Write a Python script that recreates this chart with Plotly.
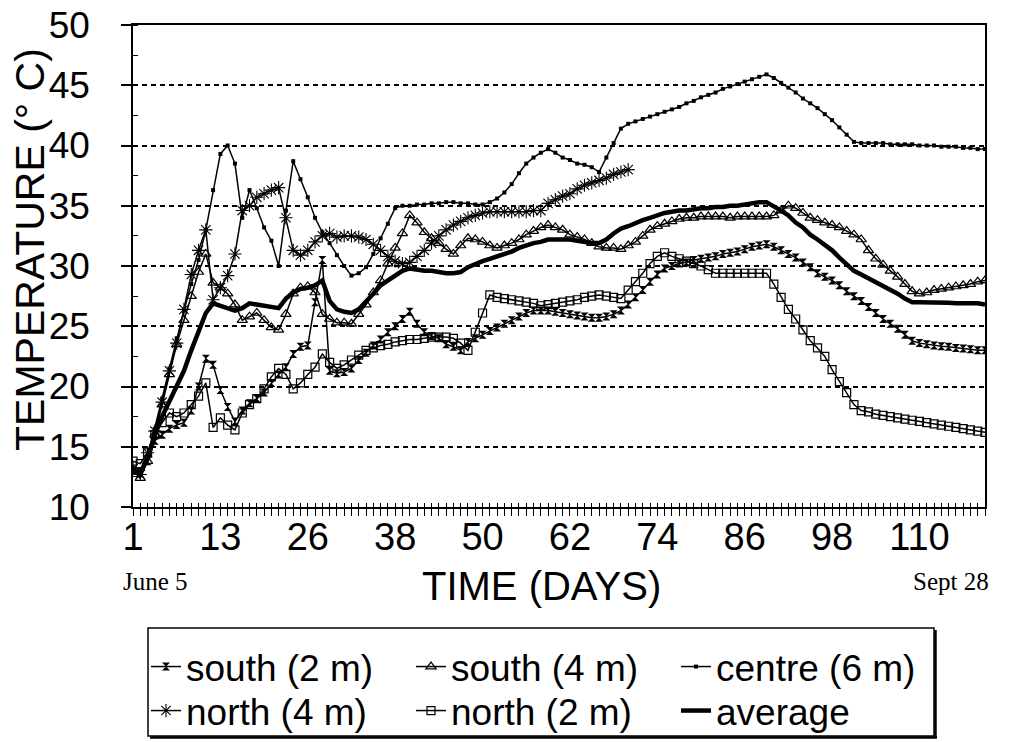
import plotly.graph_objects as go

# ---------------- data ----------------
day_index = list(range(1, 119))          # category positions (1 .. 118)
tick_positions = [1, 13, 25, 37, 49, 61, 73, 85, 97, 109]
tick_labels = ["1", "13", "26", "38", "50", "62", "74", "86", "98", "110"]

south_2m = [13.0, 12.8, 13.8, 15.5, 16.0, 16.5, 16.8, 17.0, 18.0, 20.0,
            22.3, 21.8, 19.7, 18.3, 17.1, 18.0, 18.6, 19.0, 19.5, 20.3,
            21.0, 21.6, 22.7, 23.3, 23.4, 27.0, 30.5, 21.3, 21.1, 21.2,
            21.5, 22.2, 22.8, 23.4, 23.9, 24.5, 25.0, 25.6, 26.2, 25.2,
            24.5, 24.2, 24.0, 23.5, 23.3, 23.0, 23.7, 24.0, 24.3, 24.6,
            24.9, 25.2, 25.5, 25.8, 26.1, 26.3, 26.3, 26.3, 26.2, 26.1,
            26.0, 25.9, 25.8, 25.7, 25.7, 25.8, 26.0, 26.3, 26.8, 27.4,
            28.0, 28.7, 29.3, 29.8, 30.0, 30.2, 30.3, 30.5, 30.6, 30.7,
            30.8, 31.0, 31.1, 31.2, 31.4, 31.6, 31.7, 31.8, 31.6, 31.3,
            31.0, 30.7, 30.3, 29.9, 29.4, 29.1, 28.8, 28.4, 27.9, 27.5,
            27.1, 26.6, 26.1, 25.6, 25.2, 24.8, 24.3, 23.8, 23.6, 23.5,
            23.4, 23.35, 23.3, 23.2, 23.15, 23.1, 23.0, 23.0]

south_4m = [13.0, 12.4, 13.8, 16.0, 18.5, 21.0, 23.5, 25.5, 27.5, 29.5,
            31.0, 28.6, 28.2, 27.7, 26.8, 25.5, 25.8, 26.1, 25.5, 24.9,
            24.7, 26.0, 27.7, 28.2, 28.3, 27.8, 26.0, 25.6, 25.3, 25.3,
            25.2, 26.0, 26.8, 27.8, 28.8, 30.2, 31.5, 32.7, 34.2, 33.6,
            32.8, 32.3, 31.9, 31.4, 31.0, 31.7, 32.3, 32.2, 32.0, 31.7,
            31.5, 31.7, 31.9, 32.2, 32.6, 32.9, 33.2, 33.4, 33.2, 33.0,
            32.6, 32.4, 32.2, 31.9, 31.6, 31.5, 31.5, 31.4, 31.7, 32.0,
            32.5, 33.0, 33.3, 33.5, 33.7, 33.9, 34.0, 34.0, 34.1, 34.1,
            34.1, 34.1, 34.0, 34.1, 34.1, 34.1, 34.1, 34.1, 34.2, 34.6,
            35.0, 34.8, 34.4, 34.0, 33.8, 33.6, 33.4, 33.2, 32.9, 32.6,
            32.2, 31.3, 30.6, 30.1, 29.6, 29.1, 28.5, 27.9, 27.7, 27.8,
            28.0, 28.1, 28.2, 28.3, 28.4, 28.5, 28.7, 28.8]

centre_6m = [13.0, 12.8, 14.2, 16.5, 19.0, 21.5, 24.0, 26.3, 28.5, 30.5,
             33.0, 36.3, 39.3, 40.0, 38.5, 34.0, 36.3, 34.8, 33.2, 32.1,
             30.0, 34.6, 38.7, 37.2, 35.7, 34.0, 32.8, 31.9, 30.9, 30.0,
             29.2, 29.4, 29.9, 31.0, 32.3, 33.5, 34.8, 35.0, 35.0, 35.1,
             35.1, 35.2, 35.2, 35.3, 35.3, 35.2, 35.2, 35.1, 35.1, 35.3,
             35.6, 36.1, 36.8, 37.7, 38.5, 39.0, 39.4, 39.7, 39.4, 39.0,
             38.8, 38.5, 38.4, 38.2, 37.8, 39.0, 40.2, 41.4, 41.8, 42.0,
             42.2, 42.4, 42.6, 42.8, 43.0, 43.2, 43.5, 43.7, 44.0, 44.2,
             44.4, 44.7, 44.9, 45.1, 45.3, 45.5, 45.7, 45.9, 45.6, 45.2,
             44.8, 44.4, 43.9, 43.5, 43.1, 42.6, 42.1, 41.5, 40.9, 40.3,
             40.2, 40.2, 40.2, 40.2, 40.1, 40.1, 40.1, 40.1, 40.0, 40.0,
             40.0, 39.9, 39.9, 39.9, 39.8, 39.8, 39.7, 39.7]

north_4m = [13.2, 12.7, 14.5, 16.3, 18.7, 21.3, 23.6, 26.4, 29.3, 31.3,
            33.0, 27.2, 28.2, 29.2, 31.0, 34.6, 35.0, 35.7, 36.0, 36.3,
            36.5, 34.0, 31.3, 30.9, 31.3, 32.0, 32.5, 32.7, 32.4, 32.5,
            32.5, 32.4, 32.2, 31.8, 31.3, 30.8, 30.4, 30.2, 30.3, 30.8,
            31.3, 31.9, 32.5, 33.0, 33.4, 33.7, 34.0, 34.2, 34.4, 34.5,
            34.5, 34.5, 34.5, 34.5, 34.5, 34.6, 34.6, 35.2, 35.5, 35.8,
            36.0, 36.4, 36.7, 36.9, 37.1, 37.3, 37.6, 37.8, 38.0] + [None] * 49

north_2m = [13.8, 13.6, 14.5, 16.0, 17.0, 17.8, 17.5, 17.8, 18.5, 19.2,
            20.3, 16.6, 17.4, 16.8, 16.4, 17.8, 18.5, 19.0, 19.8, 20.8,
            21.5, 21.0, 19.8, 20.3, 21.0, 21.6, 22.7, 22.0, 21.5, 21.8,
            22.2, 22.6, 23.0, 23.2, 23.4, 23.5, 23.7, 23.8, 23.9, 23.9,
            24.0, 24.1, 24.1, 24.1, 24.0, 23.6, 23.0, 24.5, 26.1, 27.6,
            27.4, 27.3, 27.2, 27.1, 27.0, 26.9, 26.7, 26.8, 26.9, 27.0,
            27.1, 27.2, 27.4, 27.5, 27.6, 27.5, 27.4, 27.3, 28.0, 28.7,
            29.4, 30.2, 30.8, 31.1, 30.8, 30.6, 30.4, 30.2, 30.0, 29.7,
            29.4, 29.4, 29.4, 29.4, 29.4, 29.4, 29.4, 29.4, 28.5, 27.4,
            26.4, 25.6, 24.7, 23.8, 23.2, 22.5, 21.4, 20.4, 19.5, 18.5,
            18.0, 17.9, 17.7, 17.6, 17.5, 17.4, 17.3, 17.2, 17.1, 17.0,
            16.9, 16.8, 16.7, 16.6, 16.5, 16.4, 16.3, 16.2]

average = [13.0, 12.9, 14.0, 16.0, 17.5, 18.8, 20.0, 21.3, 23.0, 24.6,
           26.1, 26.9, 26.7, 26.5, 26.3, 26.5, 26.9, 26.8, 26.7, 26.6,
           26.5, 27.3, 27.8, 28.1, 28.2, 28.4, 28.8, 27.1, 26.4, 26.2,
           26.1, 26.4, 27.0, 27.7, 28.4, 28.8, 29.3, 29.6, 29.8, 29.7,
           29.6, 29.6, 29.5, 29.4, 29.4, 29.5, 29.9, 30.2, 30.4, 30.6,
           30.8, 31.0, 31.2, 31.5, 31.7, 31.9, 32.0, 32.2, 32.2, 32.2,
           32.2, 32.1, 32.0, 31.9, 31.9, 32.2, 32.7, 33.1, 33.3, 33.6,
           33.8, 34.0, 34.2, 34.4, 34.5, 34.6, 34.6, 34.7, 34.8, 34.8,
           34.9, 34.9, 35.0, 35.0, 35.1, 35.2, 35.3, 35.3, 35.0, 34.6,
           34.2, 33.6, 33.2, 32.6, 32.2, 31.8, 31.3, 30.7, 30.1, 29.6,
           29.3, 29.0, 28.7, 28.4, 28.0, 27.7, 27.3, 27.0, 27.0, 27.0,
           27.0, 26.95, 26.95, 26.9, 26.9, 26.9, 26.9, 26.8]

# ---------------- layout helpers ----------------
W, H = 1014, 742
L, R, T, B = 133, 985, 25, 507           # plot-area box in pixels


def px_x(p):
    return (p - L) / (R - L)


def px_y(p):
    return (B - p) / (B - T)


FONT = "Liberation Sans, Arial, sans-serif"
SERIF = "Liberation Serif, Times New Roman, serif"

fig = go.Figure()

series = [
    ("south (2 m)", south_2m, dict(symbol="hourglass", size=8, color="black"), "legend"),
    ("south (4 m)", south_4m, dict(symbol="triangle-up-open", size=9, color="black",
                                   line=dict(width=1.2, color="black")), "legend"),
    ("centre (6 m)", centre_6m, dict(symbol="square", size=4, color="black"), "legend"),
    ("north (4 m)", north_4m, dict(symbol="asterisk-open", size=11, color="black",
                                   line=dict(width=1.1, color="black")), "legend2"),
    ("north (2 m)", north_2m, dict(symbol="square-open", size=8, color="black",
                                   line=dict(width=1.2, color="black")), "legend2"),
]

for name, vals, marker, leg in series:
    fig.add_trace(go.Scatter(
        x=day_index, y=vals, name=name, mode="lines+markers",
        line=dict(color="black", width=1.5), marker=marker,
        legend=leg, connectgaps=False))

fig.add_trace(go.Scatter(
    x=day_index, y=average, name="average", mode="lines",
    line=dict(color="black", width=4.5), legend="legend2"))

# invisible trace so that the overlay axis (inside half of crossing ticks) is drawn
fig.add_trace(go.Scatter(x=[day_index[0]], y=[10], xaxis="x2", mode="markers",
                         marker=dict(opacity=0), showlegend=False, hoverinfo="skip"))

legend_common = dict(
    orientation="h", xanchor="left", yanchor="top",
    font=dict(family=FONT, size=37, color="black"),
    bgcolor="rgba(0,0,0,0)", borderwidth=0,
    entrywidth=220, entrywidthmode="pixels", itemwidth=30,
    tracegroupgap=0,
)

fig.update_layout(
    template="none",
    width=W, height=H,
    margin=dict(l=L, r=W - R, t=T, b=H - B, autoexpand=False),
    paper_bgcolor="white", plot_bgcolor="white",
    font=dict(family=FONT, color="black"),
    showlegend=True,
    legend=dict(x=px_x(146), y=px_y(636), **legend_common),
    legend2=dict(x=px_x(146), y=px_y(680), **legend_common),
    xaxis=dict(
        automargin=False,
        range=[1, 118], tickmode="array", tickvals=tick_positions, ticktext=tick_labels,
        ticks="outside", ticklen=7, tickwidth=1.2, tickcolor="black",
        minor=dict(dtick=1, tick0=1, ticks="outside", ticklen=7, tickwidth=1, tickcolor="black"),
        tickfont=dict(family=FONT, size=38, color="black"),
        ticklabelstandoff=-11,
        showline=True, linewidth=1.5, linecolor="black", mirror=True,
        showgrid=False, zeroline=False,
    ),
    xaxis2=dict(
        automargin=False,
        overlaying="x", anchor="y", side="bottom", range=[1, 118],
        tickmode="linear", tick0=1, dtick=1, ticks="inside", ticklen=4, tickwidth=1,
        tickcolor="black", showticklabels=False, showgrid=False, zeroline=False,
        showline=False,
    ),
    yaxis=dict(
        automargin=False,
        range=[10, 50], tickmode="linear", tick0=10, dtick=5,
        ticks="outside", ticklen=10, tickwidth=1.5, tickcolor="black",
        minor=dict(dtick=2.5, ticks="inside", ticklen=5, tickwidth=1, tickcolor="black"),
        tickfont=dict(family=FONT, size=37, color="black"),
        ticklabelstandoff=24,
        showline=True, linewidth=1.5, linecolor="black", mirror=True,
        showgrid=True, gridcolor="black", gridwidth=1.5, griddash="5px,4px",
        zeroline=False,
    ),
    annotations=[
        dict(text="TEMPERATURE (° C)", xref="paper", yref="paper",
             x=px_x(30), y=px_y(250), textangle=-90, showarrow=False,
             font=dict(family=FONT, size=41, color="black"),
             xanchor="center", yanchor="middle"),
        dict(text="TIME (DAYS)", xref="paper", yref="paper",
             x=px_x(541), y=px_y(586), showarrow=False,
             font=dict(family=FONT, size=40, color="black"),
             xanchor="center", yanchor="middle"),
        dict(text="June 5", xref="paper", yref="paper",
             x=px_x(155), y=px_y(581), showarrow=False,
             font=dict(family=SERIF, size=25, color="black"),
             xanchor="center", yanchor="middle"),
        dict(text="Sept 28", xref="paper", yref="paper",
             x=px_x(951), y=px_y(581), showarrow=False,
             font=dict(family=SERIF, size=25, color="black"),
             xanchor="center", yanchor="middle"),
    ],
    shapes=[
        dict(type="rect", xref="paper", yref="paper",
             x0=px_x(148), x1=px_x(934), y0=px_y(736), y1=px_y(628),
             line=dict(color="black", width=1.5), fillcolor="rgba(0,0,0,0)", layer="above"),
        dict(type="line", xref="paper", yref="paper",
             x0=px_x(935.5), x1=px_x(935.5), y0=px_y(738), y1=px_y(630),
             line=dict(color="black", width=2.5)),
        dict(type="line", xref="paper", yref="paper",
             x0=px_x(150), x1=px_x(937), y0=px_y(737.5), y1=px_y(737.5),
             line=dict(color="black", width=2.5)),
    ],
)

fig.write_html("out.html")
